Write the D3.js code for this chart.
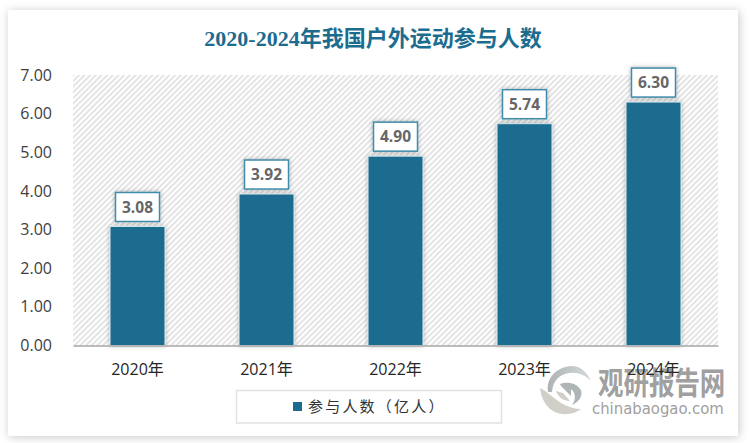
<!DOCTYPE html>
<html>
<head>
<meta charset="utf-8">
<script src="https://cdn.jsdelivr.net/npm/d3@7"></script>
<style>
  html, body { margin: 0; padding: 0; background: #fff; overflow: hidden; }
  svg { display: block; }
</style>
</head>
<body>
<svg class="chart" width="750" height="443"></svg>
<script>
let titleText = '2020-2024年我国户外运动参与人数';
let years = ['2020年', '2021年', '2022年', '2023年', '2024年'];
let people = [3.08, 3.92, 4.90, 5.74, 6.30];
let yTicks = [0, 1, 2, 3, 4, 5, 6, 7];
let legendText = '参与人数（亿人）';
let watermarkCn = '观研报告网';
let watermarkEn = 'chinabaogao.com';

let blue = '#1c6c8f';
let sansFont = '"Open Sans", "Noto Sans CJK SC", sans-serif';

let plotLeft = 73, plotRight = 718, plotTop = 75, plotBottom = 345.5;

let svg = d3.select('svg.chart');
let defs = svg.append('defs');

// hatch behind the bars
let hatch = defs.append('pattern')
  .attr('id', 'hatch')
  .attr('patternUnits', 'userSpaceOnUse')
  .attr('width', 4)
  .attr('height', 4)
  .attr('patternTransform', 'rotate(45)');
hatch.append('rect').attr('width', 4).attr('height', 4).attr('fill', '#fff');
hatch.append('rect').attr('width', 2).attr('height', 4).attr('fill', '#e4e4e4');

function addShadow(id, dev, opacity, dx, dy) {
  let f = defs.append('filter')
    .attr('id', id)
    .attr('x', '-30%').attr('y', '-30%')
    .attr('width', '160%').attr('height', '160%');
  f.append('feDropShadow')
    .attr('dx', dx).attr('dy', dy)
    .attr('stdDeviation', dev)
    .attr('flood-color', '#000')
    .attr('flood-opacity', opacity);
}
addShadow('cardShadow', 5, 0.22, 1, 1);
addShadow('barShadow', 2, 0.3, 0, 0);

let logoTop = defs.append('linearGradient').attr('id', 'logoTop')
  .attr('x1', 0).attr('x2', 1).attr('y1', 0).attr('y2', 0);
logoTop.append('stop').attr('offset', 0).attr('stop-color', '#aeb4b6');
logoTop.append('stop').attr('offset', 1).attr('stop-color', '#d3d9db');

// card
svg.append('rect')
  .attr('x', 8).attr('y', 10)
  .attr('width', 730).attr('height', 426)
  .attr('fill', '#fff')
  .style('filter', 'url(#cardShadow)');

svg.append('text')
  .attr('x', 373)
  .attr('y', 46)
  .attr('text-anchor', 'middle')
  .style('font-family', '"Liberation Serif", "Noto Sans CJK SC", serif')
  .style('font-weight', 'bold')
  .style('font-size', '22px')
  .style('fill', blue)
  .text(titleText);

let x = d3.scaleBand().domain(years).range([plotLeft, plotRight])
  .paddingInner(0.574)
  .paddingOuter(0.287);
let y = d3.scaleLinear().domain([0, 7]).range([plotBottom, plotTop]);

svg.append('rect')
  .attr('x', plotLeft).attr('y', plotTop)
  .attr('width', plotRight - plotLeft).attr('height', plotBottom - plotTop)
  .attr('fill', 'url(#hatch)');

// axes
let yAxis = svg.append('g')
  .attr('transform', `translate(${plotLeft},0)`)
  .call(d3.axisLeft(y).tickValues(yTicks).tickFormat(d3.format('.2f')).tickSize(0).tickPadding(21));
yAxis.select('.domain').remove();
yAxis.selectAll('text')
  .style('font-family', sansFont)
  .style('font-size', '16px')
  .style('fill', '#404040');

let bars = svg.selectAll('rect.bar')
  .data(people)
  .enter()
  .append('rect')
  .attr('class', 'bar')
  .attr('x', (d, i) => x(years[i]))
  .attr('y', d => y(d))
  .attr('width', x.bandwidth())
  .attr('height', d => plotBottom - y(d))
  .style('fill', blue)
  .style('stroke', '#d5e6ed')
  .style('stroke-width', '1px')
  .style('filter', 'url(#barShadow)');

let xAxis = svg.append('g')
  .attr('transform', `translate(0,${plotBottom})`)
  .call(d3.axisBottom(x).tickSize(0).tickPadding(18));
xAxis.select('.domain')
  .style('stroke', '#a6a6a6')
  .style('stroke-width', '1.5px');

// watermark sits between the axis labels and the plot
let mark = svg.append('g').attr('class', 'watermark');
mark.append('path')
  .attr('d', 'M548,392 C546,378 556,367 572,366 C580,366 587,372 591,381 C585,375 578,372 570,373 C560,374 553,380 552,392 Z')
  .attr('fill', 'url(#logoTop)');
mark.append('path')
  .attr('d', 'M560,384 C567,381 577,383 581,390 C583,396 579,402 572,405 C576,400 576,393 571,389 L571,396 L561,386 Z')
  .attr('fill', '#afb5b7');
mark.append('path')
  .attr('d', 'M540,388 C548,392 553,398 561,403 C568,407 575,409 581,409 C573,415 562,416 553,411 C545,406 541,397 540,388 Z')
  .attr('fill', '#d2cfc9');
mark.append('path')
  .attr('d', 'M556,391 C558,397 563,401 570,401 L563,393 Z')
  .attr('fill', '#d2cfc9');
mark.append('text')
  .attr('transform', 'translate(598,394) scale(0.98,1.2)')
  .style('font-family', '"Noto Sans CJK SC", sans-serif')
  .style('font-weight', 'bold')
  .style('font-size', '26px')
  .style('fill', '#a0a0a0')
  .text(watermarkCn);
mark.append('text')
  .attr('transform', 'translate(592,414) scale(0.96,1.05)')
  .style('font-family', '"DejaVu Sans", sans-serif')
  .style('font-size', '15.5px')
  .style('fill', '#a0a0a0')
  .text(watermarkEn);

xAxis.raise();
xAxis.selectAll('text')
  .style('font-family', sansFont)
  .style('font-size', '16px')
  .style('fill', '#262626');

// value labels
let boxW = 44, boxH = 29, boxGap = 5;
svg.selectAll('rect.valueBox')
  .data(people)
  .enter()
  .append('rect')
  .attr('class', 'valueBox')
  .attr('x', (d, i) => x(years[i]) + x.bandwidth() / 2 - boxW / 2)
  .attr('y', d => y(d) - boxGap - boxH)
  .attr('width', boxW)
  .attr('height', boxH)
  .style('fill', '#fff')
  .style('stroke', '#3f8cab')
  .style('stroke-width', '1.5px')
  .style('filter', 'url(#barShadow)');

svg.selectAll('text.valueText')
  .data(people)
  .enter()
  .append('text')
  .attr('class', 'valueText')
  .attr('x', (d, i) => x(years[i]) + x.bandwidth() / 2)
  .attr('y', d => y(d) - boxGap - boxH / 2)
  .attr('dy', '0.36em')
  .attr('text-anchor', 'middle')
  .style('font-family', sansFont)
  .style('font-weight', 'bold')
  .style('font-size', '15.5px')
  .style('fill', '#666')
  .text(d => d.toFixed(2));

// legend
svg.append('rect')
  .attr('x', 236.5).attr('y', 390.5)
  .attr('width', 265).attr('height', 32.5)
  .style('fill', '#fff')
  .style('stroke', '#e2e2e2')
  .style('stroke-width', '1.5px');
svg.append('rect')
  .attr('x', 293).attr('y', 402)
  .attr('width', 9).attr('height', 9)
  .style('fill', blue);
svg.append('text')
  .attr('x', 308).attr('y', 412)
  .style('font-family', '"Noto Sans CJK SC", sans-serif')
  .style('font-size', '15px')
  .style('letter-spacing', '2.2px')
  .style('fill', '#333')
  .text(legendText);
</script>
</body>
</html>
